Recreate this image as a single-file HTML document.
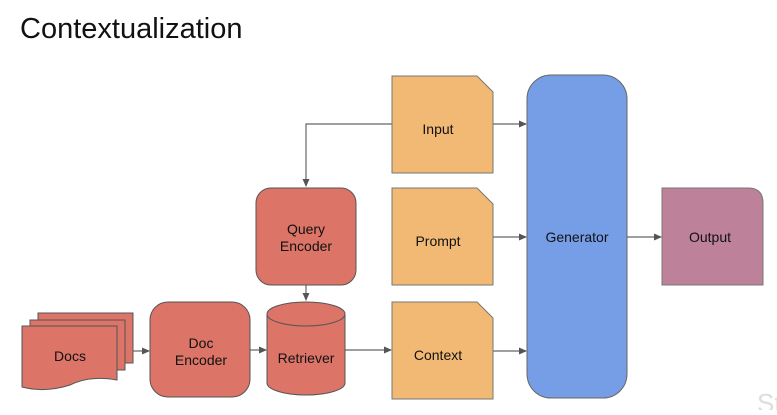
<!DOCTYPE html>
<html><head><style>
body{margin:0;background:#fff;width:777px;height:410px;overflow:hidden}
text{font-family:"Liberation Sans",sans-serif}
</style></head><body>
<svg width="777" height="410" viewBox="0 0 777 410" xmlns="http://www.w3.org/2000/svg">
<defs><marker id="a" markerWidth="8" markerHeight="8" refX="7" refY="4" orient="auto" markerUnits="userSpaceOnUse"><path d="M0,0.5 L8,4 L0,7.5z" fill="#555"/></marker></defs>
<text x="20" y="38" font-size="29" fill="#111">Contextualization</text>
<g stroke="#666" stroke-width="1.2" fill="none">
<path d="M392,124 H306 V186" marker-end="url(#a)"/>
<line x1="306" y1="285" x2="306" y2="300" marker-end="url(#a)"/>
<line x1="133" y1="351" x2="149" y2="351" marker-end="url(#a)"/>
<line x1="250" y1="350" x2="266" y2="350" marker-end="url(#a)"/>
<line x1="345" y1="350" x2="391" y2="350" marker-end="url(#a)"/>
<line x1="493" y1="124" x2="526" y2="124" marker-end="url(#a)"/>
<line x1="493" y1="237" x2="526" y2="237" marker-end="url(#a)"/>
<line x1="493" y1="351" x2="526" y2="351" marker-end="url(#a)"/>
<line x1="627" y1="237" x2="661" y2="237" marker-end="url(#a)"/>
</g>
<g stroke="#555" stroke-width="1" fill="#dc7468">
<path d="M38,313 H133 V363 H38z"/>
<path d="M30,320 H125 V370 H30z"/>
<path d="M22,326 H117 V380 Q90,375 70,385 Q45,393 22,387z"/>
<rect x="150" y="302" width="100" height="95" rx="18"/>
<rect x="256" y="188" width="100" height="97" rx="15"/>
<path d="M267,314 V383 A39,12 0 0 0 345,383 V314"/>
<ellipse cx="306" cy="314" rx="39" ry="12"/>
</g>
<g stroke="#777" stroke-width="1" fill="#f2b975">
<path d="M392,76 H477 L493,92 V173 H392z"/>
<path d="M392,188 H477 L493,204 V285 H392z"/>
<path d="M392,302 H477 L493,318 V399 H392z"/>
</g>
<rect x="527" y="75" width="100" height="323" rx="24" fill="#759ee6" stroke="#666"/>
<path d="M662,188 H748 Q763,188 763,203 V285 H662z" fill="#bd8299" stroke="#777"/>
<g font-size="14" fill="#111" text-anchor="middle">
<text x="70" y="361">Docs</text>
<text x="201" y="348">Doc</text><text x="201" y="365">Encoder</text>
<text x="306" y="234">Query</text><text x="306" y="251">Encoder</text>
<text x="306" y="363">Retriever</text>
<text x="438" y="134">Input</text>
<text x="438" y="246">Prompt</text>
<text x="438" y="360">Context</text>
<text x="577" y="242">Generator</text>
<text x="710" y="242">Output</text>
</g>
<text x="757" y="412" font-size="26" fill="#ddd">St</text>
</svg>
</body></html>
